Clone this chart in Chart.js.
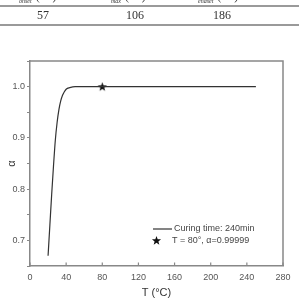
<!DOCTYPE html>
<html>
<head>
<meta charset="utf-8">
<script src="https://cdn.jsdelivr.net/npm/chart.js@4/dist/chart.umd.min.js"></script>
<style>
  html, body { margin: 0; padding: 0; background: #fff; }
  #wrap { width: 299px; height: 303px; }
</style>
</head>
<body>
<div id="wrap"><canvas id="curing"></canvas></div>
<script>
// table snippet above the plot
var tableHeads = [["T", "onset"], ["T", "max"], ["T", "endset"]];
var tableValues = ["57", "106", "186"];

// curing curve, 240 min
var temps = [20, 22, 24, 26, 28, 30, 32, 34, 36, 38, 40, 44, 50, 60, 80, 100, 150, 200, 250];
var alpha = [0.67, 0.73, 0.79, 0.845, 0.895, 0.93, 0.955, 0.972, 0.983, 0.99, 0.995, 0.998, 1.0, 1.0, 1.0, 1.0, 1.0, 1.0, 1.0];

// marked point
var markT = [80];
var markAlpha = [0.99999];

var xTicks = [0, 40, 80, 120, 160, 200, 240, 280];
var curveLabel = "Curing time: 240min";
var markLabel = "T = 80\u00b0, \u03b1=0.99999";

// filled star for the marker
var star = document.createElement("canvas");
star.width = 11;
star.height = 11;
var sc = star.getContext("2d");
sc.fillStyle = "#111";
sc.beginPath();
for (var i = 0; i < 10; i++) {
    var r = i % 2 === 0 ? 4.8 : 2.0;
    var a = -Math.PI / 2 + i * Math.PI / 5;
    var px = 5.5 + r * Math.cos(a), py = 5.8 + r * Math.sin(a);
    if (i === 0) sc.moveTo(px, py); else sc.lineTo(px, py);
}
sc.closePath();
sc.fill();

var curveData = temps.map(function (t, i) { return { x: t, y: alpha[i] }; });
var markData = markT.map(function (t, i) { return { x: t, y: markAlpha[i] }; });

var tablePlugin = {
    id: "tableSnippet",
    beforeDraw: function (chart) {
        var c = chart.ctx;
        c.save();
        c.strokeStyle = "#7a7a7a";
        c.lineWidth = 1.5;
        c.beginPath();
        c.moveTo(0, 6); c.lineTo(299, 6);
        c.moveTo(0, 25); c.lineTo(299, 25);
        c.stroke();
        c.fillStyle = "#333";
        c.textAlign = "center";
        c.textBaseline = "middle";
        c.font = "12px 'Liberation Serif'";
        var cols = [43, 135, 222];
        tableValues.forEach(function (v, i) { c.fillText(v, cols[i], 16); });
        // header row, cut off by the top edge
        c.textBaseline = "alphabetic";
        c.textAlign = "left";
        tableHeads.forEach(function (h, i) {
            var x0 = cols[i] - 34;
            c.font = "12px 'Liberation Serif'";
            c.fillText(h[0], x0, 0);
            c.font = "italic 6px 'Liberation Serif'";
            c.fillText(h[1], x0 + 10, 3);
            var w = c.measureText(h[1]).width;
            c.font = "12px 'Liberation Serif'";
            c.fillText("(\u00b0C)", x0 + 14 + w, 0);
        });
        c.restore();
    }
};

var extrasPlugin = {
    id: "extras",
    afterDraw: function (chart) {
        var c = chart.ctx;
        var xs = chart.scales.x;
        var area = chart.chartArea;
        c.save();
        // top and right frame lines
        c.strokeStyle = "#888";
        c.lineWidth = 1.5;
        c.beginPath();
        c.moveTo(area.left, area.top);
        c.lineTo(area.right, area.top);
        c.lineTo(area.right, area.bottom);
        c.stroke();
        // inward x ticks
        c.lineWidth = 1.2;
        c.beginPath();
        xTicks.forEach(function (t) {
            var px = xs.getPixelForValue(t);
            c.moveTo(px, area.bottom);
            c.lineTo(px, area.bottom - 3.5);
        });
        c.stroke();
        // legend box
        c.strokeStyle = "#333";
        c.lineWidth = 1.2;
        c.beginPath();
        c.moveTo(153, 229);
        c.lineTo(172, 229);
        c.stroke();
        c.drawImage(star, 151, 235);
        c.fillStyle = "#444";
        c.font = "9px 'Liberation Sans'";
        c.textBaseline = "middle";
        c.fillText(chart.data.datasets[0].label, 174, 229);
        c.fillText(chart.data.datasets[1].label, 172, 241);
        c.restore();
    }
};

var ctx = document.getElementById("curing").getContext("2d");

var curingChart = new Chart(ctx, {
    type: "line",
    data: {
        datasets: [
            {
                label: curveLabel,
                data: curveData,
                borderColor: "#333",
                borderWidth: 1.2,
                pointRadius: 0,
                cubicInterpolationMode: "monotone",
                fill: false,
            },
            {
                label: markLabel,
                data: markData,
                showLine: false,
                pointStyle: star,
                pointRadius: 5,
            },
        ],
    },
    plugins: [tablePlugin, extrasPlugin],
    options: {
        responsive: true,
        maintainAspectRatio: false,
        animation: false,
        layout: { padding: { top: 61, right: 16, left: 0, bottom: 0 } },
        plugins: {
            legend: { display: false },
            tooltip: { enabled: false },
        },
        scales: {
            x: {
                type: "linear",
                min: 0,
                max: 280,
                afterBuildTicks: function (scale) {
                    scale.ticks = xTicks.map(function (v) { return { value: v }; });
                },
                afterFit: function (scale) { scale.height = 37; },
                border: { color: "#888", width: 1.5 },
                grid: { drawOnChartArea: false, drawTicks: false },
                ticks: {
                    color: "#555",
                    font: { family: "'Liberation Sans'", size: 9 },
                    padding: 6,
                    maxRotation: 0,
                },
                title: {
                    display: true,
                    text: "T (\u00b0C)",
                    color: "#333",
                    font: { family: "'Liberation Sans'", size: 11 },
                    padding: { top: 0, bottom: 3 },
                },
            },
            y: {
                min: 0.65,
                max: 1.05,
                afterBuildTicks: function (scale) {
                    var t = [];
                    for (var v = 0.65; v <= 1.0501; v += 0.05) t.push({ value: Math.round(v * 100) / 100 });
                    scale.ticks = t;
                },
                afterFit: function (scale) { scale.width = 30; },
                border: { color: "#888", width: 1.5 },
                grid: {
                    drawOnChartArea: false,
                    drawTicks: true,
                    tickLength: 3,
                    tickColor: "#888",
                    tickWidth: 1.2,
                },
                ticks: {
                    color: "#555",
                    font: { family: "'Liberation Sans'", size: 9 },
                    padding: 2,
                    callback: function (v) {
                        var k = Math.round(v * 100);
                        if (k % 10 !== 0 || k < 70 || k > 100) return "";
                        return v.toFixed(1);
                    },
                },
                title: {
                    display: true,
                    text: "\u03b1",
                    color: "#333",
                    font: { family: "'Liberation Sans'", size: 11 },
                    padding: { top: 5, bottom: 0 },
                },
            },
        },
    },
});
</script>
</body>
</html>
